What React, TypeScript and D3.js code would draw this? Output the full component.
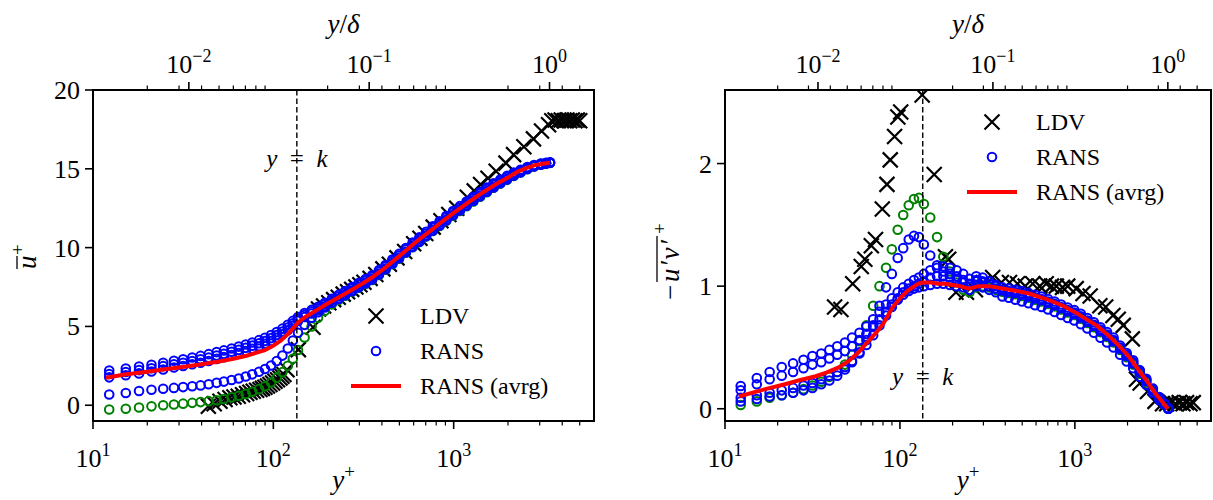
import React from 'react';
import * as d3 from 'd3';

const W = 1213;
const H = 500;
const DELTA_PLUS = 3400;
const K_PLUS = 135;
const X_DOMAIN: [number, number] = [10, 6000];

// ---------- RANS profiles (common wall-normal grid) ----------
const yPlusRans = [12.3, 15.2, 18.0, 21.1, 24.5, 28.1, 31.6, 35.5, 39.5, 43.8, 48.5, 53.2, 58.7, 64.3, 70.3, 76.4, 83.3, 89.9, 97.1, 104.4, 112.3, 120.3, 128.3, 137, 149, 163, 177, 193, 211, 230, 250, 273, 297, 324, 353, 385, 419, 457, 498, 543, 592, 645, 703, 766, 835, 910, 992, 1082, 1179, 1285, 1401, 1527, 1664, 1814, 1977, 2155, 2349, 2560, 2791, 3042, 3250, 3420];

const uRans1 = [2.2, 2.33, 2.45, 2.57, 2.7, 2.82, 2.92, 3.03, 3.13, 3.24, 3.37, 3.48, 3.6, 3.72, 3.85, 3.98, 4.13, 4.28, 4.45, 4.64, 4.86, 5.1, 5.35, 5.6, 5.85, 6.05, 6.25, 6.5, 6.76, 7.0, 7.25, 7.5, 7.75, 8.0, 8.25, 8.57, 8.9, 9.25, 9.6, 9.97, 10.32, 10.65, 11.0, 11.35, 11.67, 12.0, 12.32, 12.63, 12.93, 13.23, 13.53, 13.81, 14.08, 14.32, 14.55, 14.76, 14.94, 15.11, 15.24, 15.33, 15.38, 15.42];
const uRans2 = [1.98, 2.11, 2.23, 2.35, 2.48, 2.6, 2.7, 2.81, 2.91, 3.02, 3.15, 3.26, 3.39, 3.51, 3.64, 3.78, 3.93, 4.08, 4.26, 4.46, 4.68, 4.93, 5.2, 5.47, 5.72, 5.94, 6.15, 6.4, 6.66, 6.9, 7.15, 7.4, 7.65, 7.9, 8.15, 8.47, 8.8, 9.15, 9.5, 9.87, 10.22, 10.55, 10.9, 11.25, 11.57, 11.9, 12.22, 12.53, 12.83, 13.13, 13.43, 13.71, 13.98, 14.23, 14.47, 14.69, 14.88, 15.07, 15.21, 15.31, 15.36, 15.4];
const uRans3 = [1.77, 1.9, 2.02, 2.14, 2.27, 2.39, 2.49, 2.6, 2.7, 2.81, 2.94, 3.05, 3.18, 3.31, 3.44, 3.58, 3.74, 3.9, 4.08, 4.28, 4.5, 4.76, 5.05, 5.35, 5.6, 5.82, 6.03, 6.27, 6.52, 6.75, 6.98, 7.23, 7.48, 7.73, 7.98, 8.3, 8.63, 8.98, 9.33, 9.7, 10.05, 10.38, 10.73, 11.08, 11.4, 11.73, 12.05, 12.36, 12.66, 12.96, 13.26, 13.55, 13.82, 14.08, 14.33, 14.57, 14.78, 14.99, 15.16, 15.27, 15.34, 15.38];
const uRans4 = [0.68, 0.78, 0.9, 0.98, 1.05, 1.1, 1.15, 1.2, 1.26, 1.33, 1.42, 1.5, 1.6, 1.7, 1.82, 1.96, 2.12, 2.3, 2.52, 2.8, 3.15, 3.6, 4.1, 4.6, 5.1, 5.55, 5.9, 6.2, 6.5, 6.76, 7.02, 7.27, 7.52, 7.77, 8.02, 8.34, 8.67, 9.02, 9.37, 9.74, 10.09, 10.42, 10.77, 11.12, 11.44, 11.77, 12.09, 12.4, 12.7, 13.0, 13.3, 13.59, 13.86, 14.12, 14.36, 14.6, 14.8, 15.0, 15.16, 15.27, 15.34, 15.38];
const uRansGreen = [-0.27, -0.22, -0.14, -0.07, 0.0, 0.05, 0.1, 0.15, 0.2, 0.26, 0.32, 0.4, 0.5, 0.6, 0.72, 0.86, 1.02, 1.2, 1.45, 1.75, 2.1, 2.5, 2.95, 3.5, 4.3, 5.0, 5.55, 6.0, 6.4, 6.68, 6.95, 7.2, 7.45, 7.7, 7.95, 8.27, 8.6, 8.95, 9.3, 9.67, 10.02, 10.35, 10.7, 11.05, 11.37, 11.7, 12.02, 12.33, 12.63, 12.93, 13.23, 13.52, 13.8, 14.06, 14.3, 14.54, 14.76, 14.97, 15.14, 15.26, 15.33, 15.37];

const uvRans1 = [0.185, 0.25, 0.3, 0.34, 0.37, 0.4, 0.43, 0.45, 0.48, 0.51, 0.54, 0.58, 0.62, 0.67, 0.73, 0.79, 0.85, 0.9, 0.95, 0.99, 1.02, 1.05, 1.07, 1.1, 1.13, 1.15, 1.16, 1.15, 1.13, 1.1, 1.06, 1.08, 1.07, 1.04, 1.01, 0.99, 0.98, 0.97, 0.96, 0.945, 0.93, 0.915, 0.895, 0.875, 0.85, 0.825, 0.805, 0.775, 0.74, 0.705, 0.665, 0.625, 0.58, 0.515, 0.455, 0.395, 0.315, 0.245, 0.165, 0.095, 0.045, 0.005];
const uvRans2 = [0.15, 0.2, 0.24, 0.27, 0.3, 0.33, 0.36, 0.38, 0.41, 0.44, 0.47, 0.51, 0.56, 0.61, 0.67, 0.73, 0.79, 0.85, 0.9, 0.95, 0.98, 1.0, 1.02, 1.04, 1.07, 1.08, 1.08, 1.07, 1.05, 1.03, 1.01, 1.04, 1.03, 1.0, 0.98, 0.965, 0.955, 0.945, 0.93, 0.915, 0.9, 0.885, 0.865, 0.845, 0.82, 0.795, 0.775, 0.745, 0.71, 0.675, 0.635, 0.595, 0.55, 0.49, 0.43, 0.37, 0.295, 0.225, 0.15, 0.085, 0.04, 0.0];
const uvRans3 = [0.09, 0.11, 0.13, 0.15, 0.17, 0.19, 0.21, 0.24, 0.27, 0.3, 0.34, 0.39, 0.45, 0.52, 0.6, 0.68, 0.76, 0.83, 0.89, 0.93, 0.96, 0.98, 0.99, 1.0, 1.01, 1.02, 1.02, 1.01, 1.0, 0.99, 0.97, 1.0, 0.99, 0.97, 0.95, 0.915, 0.905, 0.89, 0.875, 0.86, 0.845, 0.83, 0.81, 0.79, 0.765, 0.74, 0.72, 0.69, 0.655, 0.62, 0.58, 0.54, 0.5, 0.44, 0.385, 0.33, 0.26, 0.195, 0.13, 0.07, 0.035, 0.0];
const uvRans4 = [0.06, 0.08, 0.1, 0.11, 0.13, 0.15, 0.17, 0.2, 0.23, 0.27, 0.32, 0.38, 0.46, 0.56, 0.68, 0.84, 0.99, 1.1, 1.23, 1.31, 1.38, 1.41, 1.4, 1.34, 1.25, 1.17, 1.12, 1.1, 1.08, 1.05, 1.02, 1.05, 1.04, 1.02, 1.0, 0.97, 0.96, 0.95, 0.94, 0.925, 0.91, 0.895, 0.875, 0.855, 0.83, 0.805, 0.785, 0.755, 0.72, 0.685, 0.645, 0.605, 0.56, 0.5, 0.44, 0.38, 0.305, 0.235, 0.155, 0.09, 0.04, 0.0];
const uvRansGreen = [0.03, 0.06, 0.09, 0.11, 0.13, 0.16, 0.19, 0.22, 0.26, 0.3, 0.36, 0.44, 0.55, 0.68, 0.84, 1.0, 1.15, 1.3, 1.46, 1.58, 1.66, 1.71, 1.72, 1.67, 1.56, 1.4, 1.24, 1.12, 1.03, 0.97, 0.95, 0.99, 1.0, 0.99, 0.97, 0.955, 0.945, 0.935, 0.92, 0.905, 0.89, 0.875, 0.855, 0.835, 0.81, 0.785, 0.765, 0.735, 0.7, 0.665, 0.625, 0.585, 0.54, 0.48, 0.42, 0.36, 0.285, 0.215, 0.14, 0.08, 0.035, 0.0];

// ---------- RANS average ----------
const yPlusAvgU = [11.8, 15, 20, 25, 30, 40, 50, 60, 70, 80, 90, 100, 110, 120, 130, 137, 150, 175, 200, 235, 270, 310, 359, 420, 480, 550, 640, 740, 843, 1000, 1200, 1450, 1700, 1970, 2250, 2520, 2800, 3100, 3420];
const uAvg = [1.75, 1.95, 2.12, 2.28, 2.4, 2.6, 2.78, 2.95, 3.12, 3.32, 3.5, 3.78, 4.1, 4.5, 4.95, 5.25, 5.6, 6.05, 6.45, 6.9, 7.3, 7.7, 8.17, 8.75, 9.3, 9.87, 10.5, 11.05, 11.56, 12.2, 12.85, 13.5, 14.0, 14.4, 14.8, 15.04, 15.22, 15.32, 15.38];
const yPlusAvgUV = [12, 17, 22, 27, 33, 38, 45, 51, 58, 64, 72, 80, 91, 100, 110, 118, 127, 135, 150, 165, 182, 200, 220, 248, 265, 284, 320, 355, 450, 546, 700, 855, 1050, 1330, 1550, 1800, 2050, 2330, 2600, 2900, 3150, 3400];
const uvAvg = [0.1, 0.16, 0.2, 0.235, 0.265, 0.295, 0.34, 0.39, 0.46, 0.53, 0.61, 0.69, 0.83, 0.9, 0.96, 0.99, 1.02, 1.03, 1.03, 1.02, 1.02, 1.01, 1.0, 0.98, 0.99, 1.0, 1.0, 0.99, 0.965, 0.94, 0.89, 0.84, 0.77, 0.68, 0.6, 0.51, 0.42, 0.31, 0.22, 0.12, 0.06, 0.0];

// ---------- LDV ----------
const ldvUYPlus = [43.6, 47, 50.6, 54, 57.4, 60.5, 63.9, 67.5, 71.1, 74.2, 77.4, 80.8, 84.3, 87, 89.8, 92.8, 95.8, 99, 102.1, 105.4, 108.8, 111.6, 114.5, 119, 137.6, 166, 178, 190, 203, 216, 229, 244, 258, 272, 287, 302, 318, 344, 370, 405, 440, 485, 535, 600, 650, 700, 770, 850, 940, 1040, 1190, 1300, 1410, 1550, 1720, 1950, 2150, 2450, 2770, 3070, 3360, 3500, 3650, 3800, 3950, 4100, 4250, 4400, 4550, 4700, 4850, 5000];
const ldvU = [-0.06, 0.1, 0.25, 0.36, 0.47, 0.52, 0.57, 0.66, 0.74, 0.82, 0.89, 0.95, 1.0, 1.07, 1.14, 1.22, 1.31, 1.41, 1.52, 1.62, 1.73, 1.84, 1.95, 2.25, 3.53, 4.95, 6.1, 6.3, 6.5, 6.7, 6.85, 7.05, 7.2, 7.35, 7.5, 7.65, 7.8, 8.05, 8.3, 8.65, 8.95, 9.35, 9.75, 10.25, 10.6, 10.9, 11.3, 11.7, 12.1, 12.5, 13.2, 13.6, 14.0, 14.4, 14.85, 15.36, 15.9, 16.4, 16.9, 17.4, 17.8, 18.05, 18.1, 18.05, 18.1, 18.05, 18.1, 18.05, 18.1, 18.05, 18.1, 18.05];
const ldvUVYPlus = [42.3, 46, 53.7, 60.1, 63, 68.6, 72.5, 79.3, 84.3, 88, 93.2, 97.3, 101, 134, 157, 182, 190, 209, 240, 270, 300, 339, 380, 423, 470, 520, 574, 630, 686, 735, 783, 850, 910, 1018, 1113, 1223, 1389, 1500, 1650, 1770, 1890, 2130, 2250, 2360, 2600, 2870, 3170, 3350, 3550, 3750, 3950, 4150, 4350, 4550, 4750];
const ldvUV = [0.83, 0.81, 1.02, 1.16, 1.22, 1.33, 1.38, 1.63, 1.83, 2.03, 2.22, 2.38, 2.42, 2.56, 1.91, 1.24, 1.22, 0.95, 0.95, 0.97, 1.03, 1.07, 1.03, 1.03, 1.02, 1.0, 1.02, 1.0, 1.02, 1.0, 1.0, 0.99, 1.0, 0.98, 0.94, 0.92, 0.84, 0.83, 0.76, 0.73, 0.68, 0.57, 0.24, 0.21, 0.14, 0.06, 0.04, 0.04, 0.05, 0.04, 0.05, 0.04, 0.05, 0.04, 0.05];

// ---------- ticks ----------
const xMajorTicks = [10, 100, 1000];
const xMajorExp = ['1', '2', '3'];
const xMinorTicks = [20, 30, 40, 50, 60, 70, 80, 90, 200, 300, 400, 500, 600, 700, 800, 900, 2000, 3000, 4000, 5000];
const topMajorTicks = [0.01, 0.1, 1];
const topMajorExp = ['\u22122', '\u22121', '0'];
const uTicks = [0, 5, 10, 15, 20];
const uvTicks = [0, 1, 2];

const FONT = "'Liberation Serif', 'DejaVu Serif', serif";
const FS_TICK = 26;
const FS_SUP = 18;
const FS_LEG = 24;
const FS_LAB = 27;
const BLUE = '#0000ff';
const GREEN = '#008000';
const RED = '#ff0000';
const R_CIRC = 4.3;
const SW_CIRC = 2;
const X_HALF = 7.5;

type Box = { x0: number; x1: number; y0: number; y1: number };

const crossPath = (s: number) => `M${-s},${-s}L${s},${s}M${-s},${s}L${s},${-s}`;

function Axes(props: {
  id: string;
  box: Box;
  yDomain: [number, number];
  yTicks: number[];
  yData: {
    ldvY: number[]; ldvV: number[];
    rans: number[][]; green: number[];
    avgY: number[]; avgV: number[];
  };
  kLabelY: number;
  legend: { x: number; y: number };
  ylabel: React.ReactNode;
}) {
  const { id, box, yDomain, yTicks, yData, kLabelY, legend, ylabel } = props;
  const x = d3.scaleLog().domain(X_DOMAIN).range([box.x0, box.x1]);
  const xTop = d3.scaleLog().domain([X_DOMAIN[0] / DELTA_PLUS, X_DOMAIN[1] / DELTA_PLUS]).range([box.x0, box.x1]);
  const y = d3.scaleLinear().domain(yDomain).range([box.y1, box.y0]);
  const line = d3.line<number>().x((_, i) => x(yData.avgY[i])).y((v) => y(v));
  const cx = (box.x0 + box.x1) / 2;
  const kx = x(K_PLUS);
  const majorLen = 8;
  const minorLen = 4.5;
  return (
    <g>
      <defs>
        <clipPath id={id}>
          <rect x={box.x0} y={box.y0} width={box.x1 - box.x0} height={box.y1 - box.y0} />
        </clipPath>
      </defs>
      <g clipPath={`url(#${id})`}>
        {yData.ldvY.map((yp, i) => (
          <path key={'l' + i} d={crossPath(X_HALF)} transform={`translate(${x(yp)},${y(yData.ldvV[i])})`} stroke="#000" strokeWidth={2.2} fill="none" />
        ))}
        {yPlusRans.map((yp, i) => (
          <circle key={'g' + i} cx={x(yp)} cy={y(yData.green[i])} r={R_CIRC} fill="none" stroke={GREEN} strokeWidth={SW_CIRC} />
        ))}
        {yData.rans.map((prof, j) =>
          yPlusRans.map((yp, i) => (
            <circle key={'b' + j + '_' + i} cx={x(yp)} cy={y(prof[i])} r={R_CIRC} fill="none" stroke={BLUE} strokeWidth={SW_CIRC} />
          ))
        )}
        <line x1={kx} x2={kx} y1={box.y0} y2={box.y1} stroke="#000" strokeWidth={1.4} strokeDasharray="5.5,3" />
        <path d={line(yData.avgV) || ''} fill="none" stroke={RED} strokeWidth={4} strokeLinejoin="round" />
      </g>
      <text x={kx} y={kLabelY} textAnchor="middle" fontFamily={FONT} fontSize={25}>
        <tspan fontStyle="italic">y</tspan>{'\u2002=\u2002'}<tspan fontStyle="italic">k</tspan>
      </text>
      <rect x={box.x0} y={box.y0} width={box.x1 - box.x0} height={box.y1 - box.y0} fill="none" stroke="#000" strokeWidth={2} />
      {xMajorTicks.map((t, i) => (
        <g key={'bx' + t}>
          <line x1={x(t)} x2={x(t)} y1={box.y1} y2={box.y1 + majorLen} stroke="#000" strokeWidth={1.6} />
          <text x={x(t)} y={box.y1 + 46} textAnchor="middle" fontFamily={FONT} fontSize={FS_TICK}>
            10<tspan dy={-11} fontSize={FS_SUP}>{xMajorExp[i]}</tspan>
          </text>
        </g>
      ))}
      {xMinorTicks.map((t) => (
        <g key={'mx' + t}>
          <line x1={x(t)} x2={x(t)} y1={box.y1} y2={box.y1 + minorLen} stroke="#000" strokeWidth={1.2} />
          <line x1={x(t)} x2={x(t)} y1={box.y0} y2={box.y0 - minorLen} stroke="#000" strokeWidth={1.2} />
        </g>
      ))}
      {topMajorTicks.map((t, i) => (
        <g key={'tx' + t}>
          <line x1={xTop(t)} x2={xTop(t)} y1={box.y0} y2={box.y0 - majorLen} stroke="#000" strokeWidth={1.6} />
          <text x={xTop(t)} y={box.y0 - 17} textAnchor="middle" fontFamily={FONT} fontSize={FS_TICK}>
            10<tspan dy={-11} fontSize={FS_SUP}>{topMajorExp[i]}</tspan>
          </text>
        </g>
      ))}
      {yTicks.map((t) => (
        <g key={'y' + t}>
          <line x1={box.x0} x2={box.x0 - majorLen} y1={y(t)} y2={y(t)} stroke="#000" strokeWidth={1.6} />
          <text x={box.x0 - 13} y={y(t) + 9} textAnchor="end" fontFamily={FONT} fontSize={FS_TICK}>{t}</text>
        </g>
      ))}
      <text x={cx} y={33} textAnchor="middle" fontFamily={FONT} fontSize={FS_LAB}>
        <tspan fontStyle="italic">y</tspan>/<tspan fontStyle="italic">δ</tspan>
      </text>
      <text x={cx} y={489} textAnchor="middle" fontFamily={FONT} fontSize={FS_LAB}>
        <tspan fontStyle="italic">y</tspan><tspan dy={-11} fontSize={FS_SUP + 1}>+</tspan>
      </text>
      {ylabel}
      <g fontFamily={FONT} fontSize={FS_LEG}>
        <path d={crossPath(X_HALF)} transform={`translate(${legend.x},${legend.y})`} stroke="#000" strokeWidth={2.2} fill="none" />
        <text x={legend.x + 44} y={legend.y + 8}>LDV</text>
        <circle cx={legend.x} cy={legend.y + 35} r={R_CIRC} fill="none" stroke={BLUE} strokeWidth={SW_CIRC} />
        <text x={legend.x + 44} y={legend.y + 43}>RANS</text>
        <line x1={legend.x - 25} x2={legend.x + 25} y1={legend.y + 70} y2={legend.y + 70} stroke={RED} strokeWidth={4} />
        <text x={legend.x + 44} y={legend.y + 78}>RANS (avrg)</text>
      </g>
    </g>
  );
}

export default function App() {
  const leftBox: Box = { x0: 93, x1: 594, y0: 90, y1: 421 };
  const rightBox: Box = { x0: 725, x1: 1211, y0: 90, y1: 421 };

  const leftYLabel = (
    <g transform="translate(36,256) rotate(-90)" fontFamily={FONT} fontSize={FS_LAB}>
      <text x={-13} y={0} fontStyle="italic">u</text>
      <text x={1} y={-12} fontSize={FS_SUP + 1}>+</text>
      <line x1={-13} x2={0} y1={-19} y2={-19} stroke="#000" strokeWidth={1.3} />
    </g>
  );
  const rightYLabel = (
    <g transform="translate(679,256) rotate(-90)" fontFamily={FONT} fontSize={FS_LAB}>
      <text x={-44} y={0}>{'\u2212'}</text>
      <text x={-26} y={0} fontStyle="italic" letterSpacing={1.5}>u{'\u2032'}v{'\u2032'}</text>
      <text x={22} y={-13} fontSize={FS_SUP + 1}>+</text>
      <line x1={-26} x2={20} y1={-22} y2={-22} stroke="#000" strokeWidth={1.3} />
    </g>
  );

  return (
    <svg width={W} height={H} viewBox={`0 0 ${W} ${H}`} style={{ position: 'absolute', left: 0, top: 0, background: '#fff' }}>
      <rect x={0} y={0} width={W} height={H} fill="#fff" />
      <Axes
        id="clipL"
        box={leftBox}
        yDomain={[-1, 20]}
        yTicks={uTicks}
        yData={{ ldvY: ldvUYPlus, ldvV: ldvU, rans: [uRans1, uRans2, uRans3, uRans4], green: uRansGreen, avgY: yPlusAvgU, avgV: uAvg }}
        kLabelY={167}
        legend={{ x: 376, y: 316 }}
        ylabel={leftYLabel}
      />
      <Axes
        id="clipR"
        box={rightBox}
        yDomain={[-0.1, 2.6]}
        yTicks={uvTicks}
        yData={{ ldvY: ldvUVYPlus, ldvV: ldvUV, rans: [uvRans1, uvRans2, uvRans3, uvRans4], green: uvRansGreen, avgY: yPlusAvgUV, avgV: uvAvg }}
        kLabelY={385}
        legend={{ x: 992, y: 122 }}
        ylabel={rightYLabel}
      />
    </svg>
  );
}
